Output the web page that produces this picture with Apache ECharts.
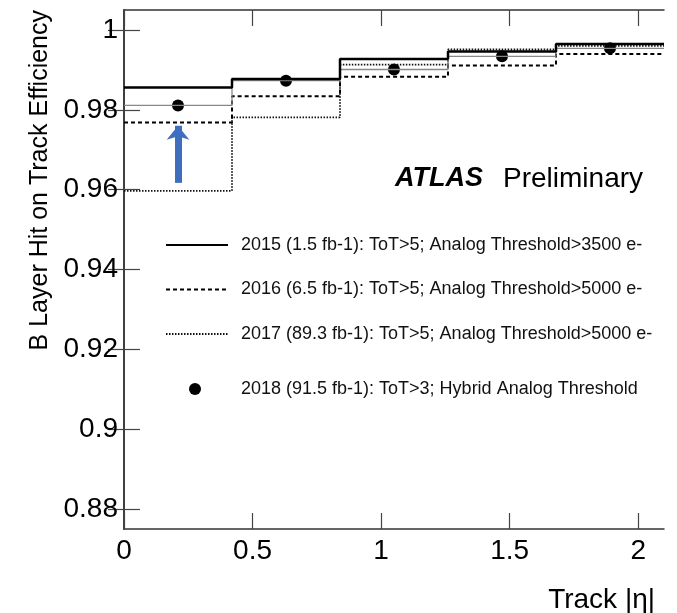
<!DOCTYPE html>
<html>
<head>
<meta charset="utf-8">
<script src="https://cdn.jsdelivr.net/npm/echarts@6/dist/echarts.min.js"></script>
<style>
  html, body { margin: 0; padding: 0; background: #fff; }
  #chart { width: 677px; height: 613px; }
</style>
</head>
<body>
<div id="chart"></div>
<script>
// bin edges in |eta| and efficiency per bin
const binEdges = [0, 0.42, 0.84, 1.26, 1.68, 2.1];
const eff2015 = [0.9856, 0.9877, 0.9927, 0.9946, 0.9965];
const eff2016 = [0.9768, 0.9834, 0.9883, 0.9911, 0.9940];
const eff2017 = [0.9597, 0.9781, 0.9913, 0.9951, 0.9960];
const eff2018 = [0.9811, 0.9873, 0.9901, 0.9934, 0.9954];
const xTicks = [0, 0.5, 1, 1.5, 2];
const yTicks = [0.88, 0.9, 0.92, 0.94, 0.96, 0.98, 1];
const names = [
    '2015 (1.5 fb-1): ToT>5; Analog Threshold>3500 e-',
    '2016 (6.5 fb-1): ToT>5; Analog Threshold>5000 e-',
    '2017 (89.3 fb-1): ToT>5; Analog Threshold>5000 e-',
    '2018 (91.5 fb-1): ToT>3; Hybrid Analog Threshold'
];
// annotation arrow (x, from, to)
const arrowX = 0.21;
const arrowY = [0.9617, 0.9760];

const FONT = 'Liberation Sans';

// histogram -> step line points
function stepData(vals) {
    let pts = [];
    for (let i = 0; i < binEdges.length; i++) {
        pts.push([binEdges[i], vals[Math.min(i, vals.length - 1)]]);
    }
    return pts;
}

let centers = [];
for (let i = 0; i < eff2018.length; i++) {
    centers.push([(binEdges[i] + binEdges[i + 1]) / 2, eff2018[i]]);
}

const chart = echarts.init(document.getElementById('chart'));

const frameLine = {show: true, lineStyle: {color: '#333', width: 1.5}};
const innerTick = {show: true, inside: true, length: 16, lineStyle: {color: '#444', width: 1.2}};

let option = {
    animation: false,
    grid: {left: 124, right: 13, top: 10, bottom: 84},
    xAxis: [{
        type: 'value', min: 0, max: 2.1, position: 'bottom',
        axisLine: frameLine,
        axisTick: Object.assign({customValues: xTicks}, innerTick),
        axisLabel: {customValues: xTicks, color: '#000', fontSize: 28, fontFamily: FONT, margin: 8},
        splitLine: {show: false}
    }, {
        type: 'value', min: 0, max: 2.1, position: 'top',
        axisLine: frameLine,
        axisTick: Object.assign({customValues: xTicks}, innerTick),
        axisLabel: {show: false},
        splitLine: {show: false}
    }],
    yAxis: [{
        type: 'value', min: 0.875, max: 1.005, position: 'left',
        axisLine: frameLine,
        axisTick: Object.assign({customValues: yTicks}, innerTick),
        axisLabel: {customValues: yTicks, color: '#000', fontSize: 28, fontFamily: FONT, margin: 6},
        splitLine: {show: false}
    }, {
        type: 'value', min: 0.875, max: 1.005, position: 'right',
        axisLine: frameLine,
        axisTick: Object.assign({customValues: yTicks}, innerTick),
        axisLabel: {show: false},
        splitLine: {show: false}
    }],
    legend: [{
        data: names.slice(0, 3),
        orient: 'vertical',
        left: 160, top: 230,
        itemWidth: 62, itemHeight: 14, itemGap: 24.5,
        itemStyle: {opacity: 0},
        textStyle: {fontSize: 18, fontFamily: FONT, color: '#111', padding: [0, 0, 0, 8], lineHeight: 20}
    }, {
        data: [names[3]],
        orient: 'vertical',
        left: 184, top: 374,
        itemWidth: 12, itemHeight: 12,
        icon: 'circle',
        textStyle: {fontSize: 18, fontFamily: FONT, color: '#111', padding: [0, 0, 0, 35], lineHeight: 20}
    }],
    graphic: [{
        type: 'text', x: 40, y: 10, rotation: Math.PI / 2,
        style: {text: 'B Layer Hit on Track Efficiency', font: '25px "Liberation Sans"', fill: '#000',
            align: 'right', verticalAlign: 'middle'}
    }, {
        type: 'text', x: 655, y: 600,
        style: {text: 'Track |η|', font: '28px "Liberation Sans"', fill: '#000',
            align: 'right', verticalAlign: 'middle'}
    }, {
        type: 'text', x: 395, y: 179,
        style: {text: 'ATLAS', font: 'italic bold 27px "Liberation Sans"', fill: '#000',
            align: 'left', verticalAlign: 'middle'}
    }, {
        type: 'text', x: 503, y: 179,
        style: {text: 'Preliminary', font: '28px "Liberation Sans"', fill: '#000',
            align: 'left', verticalAlign: 'middle'}
    }],
    series: [{
        name: names[2], type: 'line', step: 'end',
        data: stepData(eff2017), symbol: 'none',
        lineStyle: {color: '#111', width: 1.8, type: [1.5, 1.5]}
    }, {
        name: names[1], type: 'line', step: 'end',
        data: stepData(eff2016), symbol: 'none',
        lineStyle: {color: '#000', width: 2, type: [4, 3]}
    }, {
        name: '2018 hist', type: 'line', step: 'end',
        data: stepData(eff2018), symbol: 'none',
        lineStyle: {color: '#888', width: 1.3}
    }, {
        name: names[0], type: 'line', step: 'end',
        data: stepData(eff2015), symbol: 'none',
        lineStyle: {color: '#000', width: 2.5}
    }, {
        name: names[3], type: 'scatter',
        data: centers, symbol: 'circle', symbolSize: 12,
        itemStyle: {color: '#000', opacity: 1},
        markLine: {
            silent: true,
            symbol: ['none', 'arrow'],
            symbolSize: [17, 14],
            label: {show: false},
            lineStyle: {color: '#3F6DBF', width: 7, type: 'solid', opacity: 1},
            data: [[{coord: [arrowX, arrowY[0]]}, {coord: [arrowX, arrowY[1]]}]]
        }
    }]
};

chart.setOption(option);
</script>
</body>
</html>
